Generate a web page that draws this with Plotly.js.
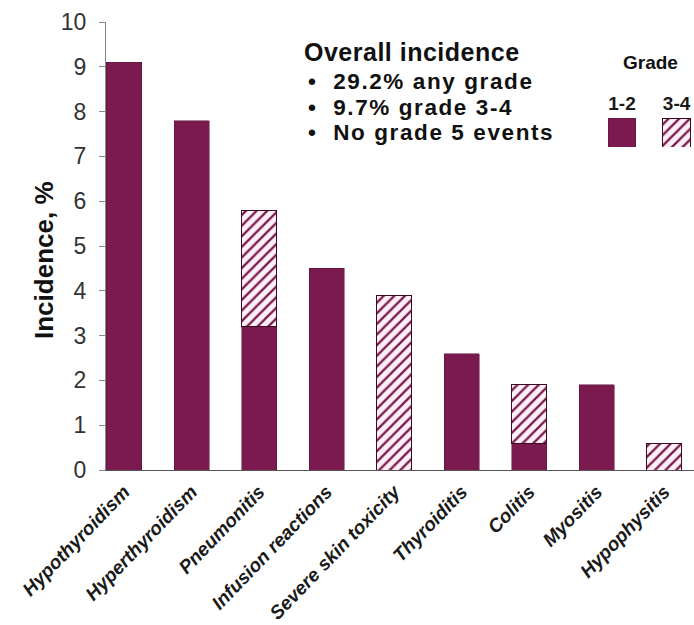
<!DOCTYPE html>
<html>
<head>
<meta charset="utf-8">
<script src="https://cdn.plot.ly/plotly-3.0.1.min.js"></script>
<style>
  html, body { margin: 0; padding: 0; background: #ffffff; }
  #chart { width: 694px; height: 625px; }
  .plot .trace.bars .point path { filter: drop-shadow(2px 1px 1.5px rgba(0,0,0,0.35)); }
</style>
</head>
<body>
<div id="chart"></div>
<script>
// Immune-related adverse events, incidence by grade (%)
const categories = [
  "Hypothyroidism", "Hyperthyroidism", "Pneumonitis", "Infusion reactions",
  "Severe skin toxicity", "Thyroiditis", "Colitis", "Myositis", "Hypophysitis"
];
const grade12 = [9.1, 7.8, 3.2, 4.5, null, 2.6, 0.6, 1.9, null];
const grade34 = [null, null, 2.6, null, 3.9, null, 1.3, null, 0.6];

const yTicks = [0, 1, 2, 3, 4, 5, 6, 7, 8, 9, 10];

// Key swatches, drawn as a tiny inset bar chart
const keyLabels = ["1-2", "3-4"];
const keySolid = [1, null];
const keyHatch = [null, 1];

const summaryTitle = "Overall incidence";
const summaryLines = ["29.2% any grade", "9.7% grade 3-4", "No grade 5 events"];

const MAROON = "#7a1a4e";
const FONT = "Liberation Sans, Arial, sans-serif";

const hatch = {
  shape: "/",
  fgcolor: MAROON,
  bgcolor: "#fcf0f6",
  size: 7.5,
  solidity: 0.3
};

const traces = [
  {
    type: "bar", name: "1-2", x: categories, y: grade12, width: 0.52,
    marker: { color: MAROON, line: { color: "#5a0f38", width: 0.5 } },
    hoverinfo: "x+y", showlegend: false
  },
  {
    type: "bar", name: "3-4", x: categories, y: grade34, width: 0.52,
    marker: { color: "#fcf0f6", pattern: hatch, line: { color: "#3a0a22", width: 1 } },
    hoverinfo: "x+y", showlegend: false
  },
  {
    type: "bar", x: keyLabels, y: keySolid, width: 0.5, xaxis: "x2", yaxis: "y2",
    marker: { color: MAROON, line: { color: "#5a0f38", width: 0.5 } },
    hoverinfo: "skip", showlegend: false
  },
  {
    type: "bar", x: keyLabels, y: keyHatch, width: 0.5, xaxis: "x2", yaxis: "y2",
    marker: { color: "#fcf0f6", pattern: hatch, line: { color: "#3a0a22", width: 1 } },
    hoverinfo: "skip", showlegend: false
  }
];

// plot area in pixels: x 106..694, y 22..470
const L = 106, R = 694, T = 22, B = 470;
const px = v => (v - L) / (R - L);
const py = v => (B - v) / (B - T);

const annotations = [
  {
    text: summaryTitle, xref: "paper", yref: "paper", align: "left",
    x: px(302), y: py(52), xanchor: "left", yanchor: "middle", showarrow: false,
    font: { family: FONT, size: 25, weight: "bold", color: "#111" }
  },
  {
    text: "Grade", xref: "paper", yref: "paper",
    x: px(650), y: py(62), xanchor: "center", yanchor: "middle", showarrow: false,
    font: { family: FONT, size: 19, weight: "bold", color: "#111" }
  },
  {
    text: "Incidence, %", xref: "paper", yref: "paper", textangle: -90,
    x: px(44), y: py(260), xanchor: "center", yanchor: "middle", showarrow: false,
    font: { family: FONT, size: 26, weight: "bold", color: "#111" }
  }
];
const lineY = [82, 107, 132];
summaryLines.forEach((t, i) => {
  annotations.push({
    text: "\u2022\u00a0\u00a0" + t, xref: "paper", yref: "paper", align: "left",
    x: px(306), y: py(lineY[i]), xanchor: "left", yanchor: "middle", showarrow: false,
    font: { family: FONT, size: 22.5, weight: "bold", color: "#111" }
  });
});

const layout = {
  width: 694, height: 625,
  margin: { l: L, r: 694 - R, t: T, b: 625 - B, pad: 0 },
  paper_bgcolor: "#ffffff", plot_bgcolor: "#ffffff",
  barmode: "stack",
  font: { family: FONT, color: "#222" },
  xaxis: {
    type: "category", range: [-0.267, 8.44],
    tickangle: -46, ticks: "", showgrid: false, zeroline: false,
    showline: true, linecolor: "#555", linewidth: 1.2,
    ticklabelstandoff: 2,
    tickfont: { family: FONT, size: 19, weight: "bold", style: "italic", color: "#1a1a1a" }
  },
  yaxis: {
    range: [0, 10], tickmode: "array", tickvals: yTicks, ticktext: yTicks.map(String),
    ticks: "outside", ticklen: 6, tickcolor: "#888", tickwidth: 1,
    showline: true, linecolor: "#888", linewidth: 1,
    showgrid: false, zeroline: false, ticklabelstandoff: 8,
    tickfont: { family: FONT, size: 23, color: "#333" }
  },
  xaxis2: {
    type: "category", domain: [px(595), 1], range: [-0.495, 1.32],
    anchor: "y2", side: "top", ticks: "", showline: false, showgrid: false, zeroline: false,
    ticklabelstandoff: 3,
    tickfont: { family: FONT, size: 19, weight: "bold", color: "#1a1a1a" }
  },
  yaxis2: {
    domain: [py(147), py(118)], range: [0, 1], anchor: "x2",
    showticklabels: false, ticks: "", showline: false, showgrid: false, zeroline: false
  },
  annotations: annotations,
  showlegend: false
};

Plotly.newPlot("chart", traces, layout, { displayModeBar: false, staticPlot: true }).then(gd => {
  // open up the tracking of the summary block a little
  gd.querySelectorAll(".annotation-text").forEach(t => {
    const s = t.textContent;
    if (s.indexOf("\u2022") === 0) t.style.letterSpacing = "1.6px";
    else if (s === summaryTitle) t.style.letterSpacing = "0.5px";
  });
});
</script>
</body>
</html>
